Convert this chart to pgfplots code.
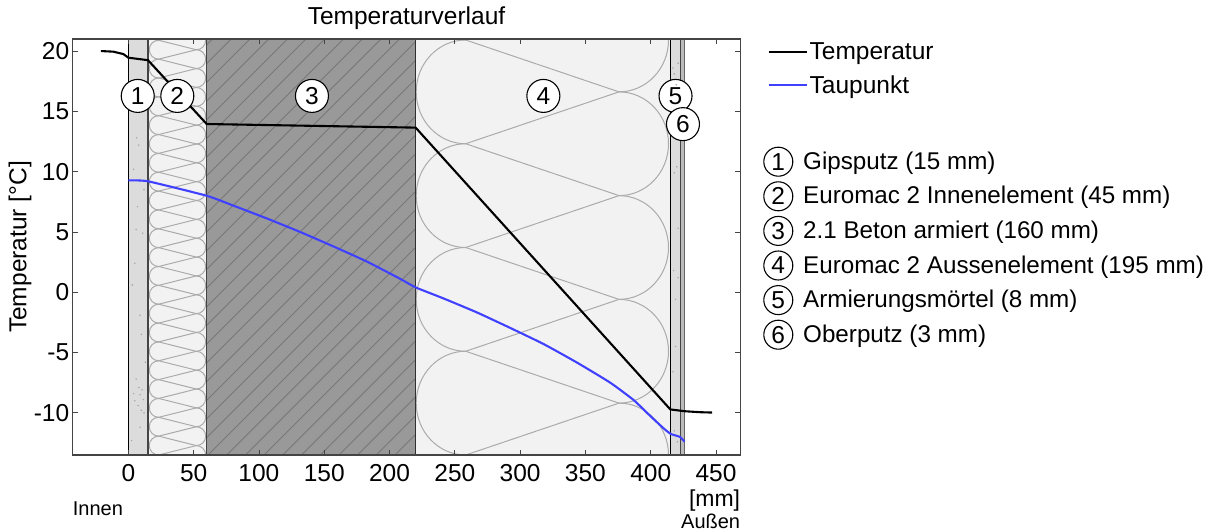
\documentclass[border=0pt]{standalone}
\usepackage{fontspec}
\setmainfont{Liberation Sans}
\usepackage{pgfplots}
\pgfplotsset{compat=1.18}

\definecolor{plaster}{HTML}{DCDCDC}
\definecolor{insul}{HTML}{F2F2F2}
\definecolor{concrete}{HTML}{999999}
\definecolor{hatch}{HTML}{777777}
\definecolor{loops}{HTML}{ABABAB}
\definecolor{dew}{HTML}{4040FF}
\definecolor{frame}{HTML}{444444}

\tikzset{num/.style={circle,draw=black,fill=white,inner sep=0pt,line width=1.1pt,minimum size=#1}}

% serpentine insulation texture, all lengths in pt from the lower left axis corner
% #1 left touch x, #2 right touch x, #3 period, #4 x radius, #5 last index
\newcommand{\loops}[5]{%
  \pgfmathsetmacro\per{#3}
  \foreach \k in {0,...,#5} {
    \pgfmathsetmacro\ya{\k*\per}
    \pgfmathsetmacro\yb{(\k+0.5)*\per}
    \pgfmathsetmacro\yc{(\k-0.5)*\per}
    \draw ({#1pt},{\ya pt}) arc[start angle=270,delta angle=-180,x radius=#4pt,y radius=\per/2*1pt];
    \draw ({#2pt},{\yc pt}) arc[start angle=-90,delta angle=180,x radius=#4pt,y radius=\per/2*1pt];
    \draw ({#1pt},{\ya pt}) -- ({#2pt},{\yb pt});
    \draw ({#1pt},{\ya pt}) -- ({#2pt},{\yc pt});
  }
}

\begin{document}
\begin{tikzpicture}
\path[use as bounding box] (-72.7pt,-76pt) rectangle (1135.3pt,455pt);
\begin{axis}[
    name=main,
    at={(0pt,0pt)},anchor=south west,
    scale only axis,
    width=667.6pt,height=416pt,
    xmin=-42.6,xmax=468.6,ymin=-13.5,ymax=21,
    xtick={0,50,...,450},
    ytick={-10,-5,...,20},
    tick align=inside,
    major tick length=5pt,
    tick style={color=frame,line width=0.8pt},
    axis line style={color=frame,line width=1.3pt},
    axis on top,
    font=\fontsize{24.5}{28}\selectfont,
    xticklabel style={yshift=-6pt},
    /pgf/number format/assume math mode=true,
    /pgf/number format/1000 sep={},
    title={Temperaturverlauf},
    title style={at={(0.5,1)},anchor=south,yshift=0pt},
    ylabel={Temperatur [°C]},
    ylabel style={at={(axis description cs:-0.079,0.5)},anchor=center},
    legend cell align=left,
    legend style={draw=none,fill=none,at={(1.0405,0.997)},anchor=north west,
      font=\fontsize{24.5}{28}\selectfont,row sep=10.5pt,inner sep=0pt,
      /tikz/every even column/.append style={column sep=7pt}},
    legend image code/.code={\draw[#1] (0pt,0pt) -- (38pt,0pt);},
]
% layers
\addplot[fill=plaster,draw=none,forget plot] coordinates {(0,-13.5)(15,-13.5)(15,21)(0,21)} -- cycle;
\addplot[fill=insul,draw=none,forget plot] coordinates {(15,-13.5)(60,-13.5)(60,21)(15,21)} -- cycle;
\addplot[fill=concrete,draw=none,forget plot] coordinates {(60,-13.5)(220,-13.5)(220,21)(60,21)} -- cycle;
\addplot[fill=insul,draw=none,forget plot] coordinates {(220,-13.5)(415,-13.5)(415,21)(220,21)} -- cycle;
\addplot[fill=plaster,draw=none,forget plot] coordinates {(415,-13.5)(423,-13.5)(423,21)(415,21)} -- cycle;
\addplot[fill=plaster!85!black,draw=none,forget plot] coordinates {(423,-13.5)(426,-13.5)(426,21)(423,21)} -- cycle;

% plaster specks
\addplot[only marks,mark=*,mark size=0.5pt,color=black!35,forget plot] coordinates {
  (6,-7.2)(8,-7.9)(9,-8.5)(10.5,-8.1)(11.5,-8.9)(5,-9)(7.5,-9.4)(10,-9.8)(12,-10)
  (9,-11.2)(4,-8.4)(13,-5.8)(8,12.2)(6.5,12.8)(7,7.1)(11,4.9)(3,0.6)(9,-1.9)(5,2.4)
  (12,8.5)(2.5,-12.3)(10,-3.5)(6,5.2)(4,10.2)
  (417,18.6)(418,18.1)(419.5,17.2)(421,19)(418,9.9)(420,10.4)(417.5,1.8)(421,1.2)
  (419,-4.5)(418,-11.5)(420.5,-12.4)(417,-6.6)(421,5.3)(419,-0.6)
};

\pgfplotsextra{
  \begin{scope}[shift={(axis cs:-42.6,-13.5)}]
    % concrete hatching
    \begin{scope}
      \clip (134pt,0pt) rectangle (342.9pt,416pt);
      \foreach \k in {-22,...,12} {
        \pgfmathsetmacro\xs{135.3+18.7*\k}
        \draw[hatch,line width=0.9pt] ({\xs pt},0pt) -- ++(416pt,416pt);
      }
    \end{scope}
    % inner insulation
    \begin{scope}[loops,line width=1pt]
      \clip (75.2pt,0pt) rectangle (134pt,416pt);
      \loops{86}{123.6}{18.85}{9.4}{23}
    \end{scope}
    % outer insulation
    \begin{scope}[loops,line width=1pt]
      \clip (342.9pt,0pt) rectangle (597.6pt,416pt);
      \loops{393}{546.3}{103.75}{49.5}{4}
    \end{scope}
  \end{scope}
}

% layer borders
\addplot[black,line width=1.3pt,forget plot] coordinates {(0,-13.5)(0,21)};
\addplot[frame,line width=2pt,forget plot] coordinates {(15,-13.5)(15,21)};
\addplot[frame,line width=1.6pt,forget plot] coordinates {(60,-13.5)(60,21)};
\addplot[frame!70!black,line width=1.6pt,forget plot] coordinates {(220,-13.5)(220,21)};
\addplot[black,line width=1.3pt,forget plot] coordinates {(415,-13.5)(415,21)};
\addplot[frame,line width=1.3pt,forget plot] coordinates {(423,-13.5)(423,21)};
\addplot[black!60,line width=1.3pt,forget plot] coordinates {(426,-13.5)(426,21)};

% Temperatur
\addplot[black,line width=2.1pt] coordinates {
  (-21,20)(-11.5,19.95)(-3.8,19.75)(0,19.45)(14.6,19.25)(15,19.25)
  (60,13.95)(220,13.65)(415,-9.72)(426,-9.87)(437.7,-9.95)(447,-9.98)
};
% Taupunkt
\addplot[dew,line width=2.1pt,smooth,tension=0.3] coordinates {
  (0,9.27)(15,9.2)(60,8.0)(80,7.2)(106,6.12)(131.5,5.0)(157,3.8)
  (182.5,2.55)(208,1.12)(220,0.4)(241,-0.5)(267,-1.68)(292,-2.94)(318,-4.3)
  (343,-5.8)(369,-7.5)(387,-8.95)(400,-10.3)(410,-11.3)(415.3,-11.75)(422.4,-12)(426,-12.4)
};
\legend{Temperatur,Taupunkt}

% layer numbers
\node[num=33pt] at (axis cs:7.2,16.28) {1};
\node[num=33pt] at (axis cs:37.5,16.28) {2};
\node[num=33pt] at (axis cs:140.6,16.28) {3};
\node[num=33pt] at (axis cs:317.8,16.28) {4};
\node[num=33pt] at (axis cs:419,16.28) {5};
\node[num=33pt] at (axis cs:424.7,13.94) {6};
\end{axis}

\path[font=\fontsize{23}{27}\selectfont]
  (667.6pt,-51pt) node[anchor=base east,inner sep=0pt] {[mm]};
\path[font=\fontsize{20}{24}\selectfont]
  (667.6pt,-73pt) node[anchor=base east,inner sep=0pt] {Außen}
  (0pt,-60pt) node[anchor=base west,inner sep=0pt] {Innen};

\foreach \i/\txt in {0/Gipsputz (15 mm),1/Euromac 2 Innenelement (45 mm),2/2.1 Beton armiert (160 mm),
    3/Euromac 2 Aussenelement (195 mm),4/Armierungsmörtel (8 mm),5/Oberputz (3 mm)} {
  \pgfmathsetmacro\yc{293.3-34.6*\i}
  \pgfmathsetmacro\yb{285.7-34.6*\i}
  \pgfmathtruncatemacro\n{\i+1}
  \node[num=29pt,font=\fontsize{24.5}{28}\selectfont] at (705.6pt,{\yc pt}) {\n};
  \node[anchor=base west,inner sep=0pt,font=\fontsize{24.2}{28}\selectfont] at (730.3pt,{\yb pt}) {\txt};
}
\end{tikzpicture}
\end{document}
